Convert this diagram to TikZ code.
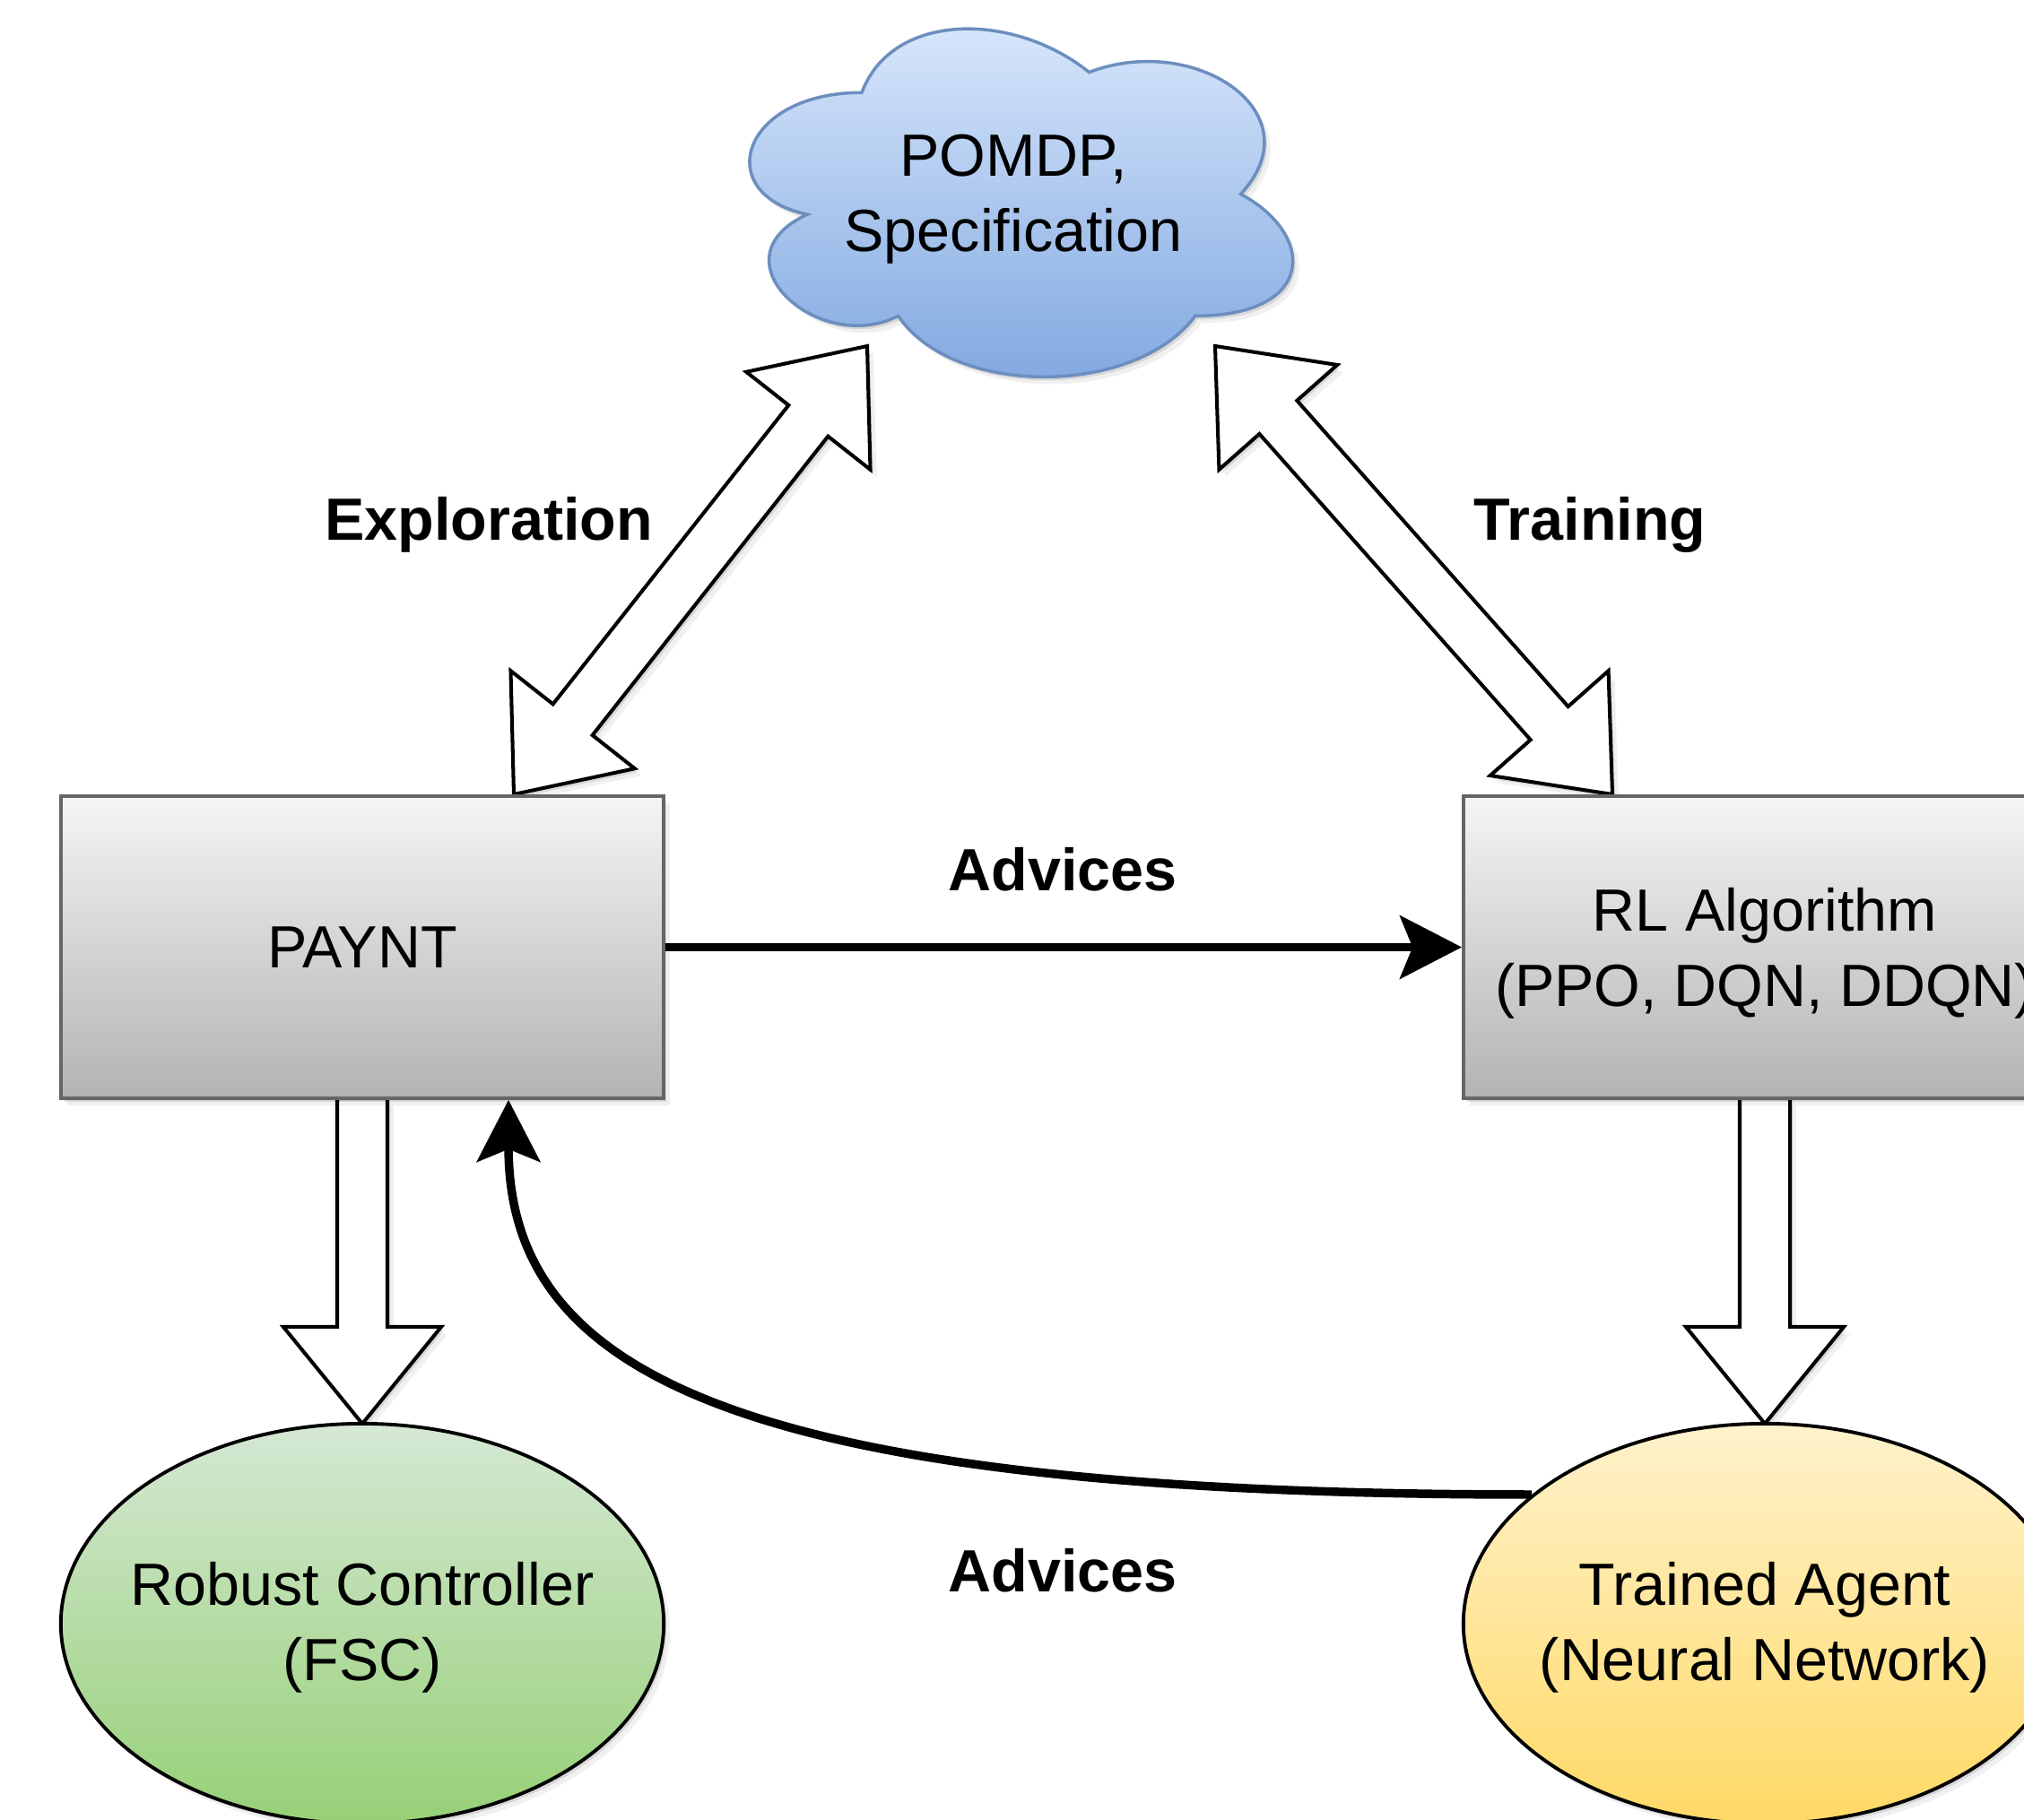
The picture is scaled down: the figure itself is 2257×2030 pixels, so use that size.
\documentclass[tikz,border=0pt]{standalone}
\usepackage{fontspec}
\setmainfont{Liberation Sans}
\usetikzlibrary{shapes.geometric,arrows.meta,calc,shadows}

\definecolor{boxtop}{HTML}{F5F5F5}
\definecolor{boxbot}{HTML}{B3B3B3}
\definecolor{boxline}{HTML}{666666}
\definecolor{cloudtop}{HTML}{DAE8FC}
\definecolor{cloudbot}{HTML}{7EA6E0}
\definecolor{cloudline}{HTML}{6C8EBF}
\definecolor{greentop}{HTML}{D5E8D4}
\definecolor{greenbot}{HTML}{97D077}
\definecolor{yeltop}{HTML}{FFF2CC}
\definecolor{yelbot}{HTML}{FFD966}

\newcommand\mytxt{\fontsize{18.9pt}{23.9pt}\selectfont}

% single block arrow from #1 to tip #2
\newcommand\flexone[2]{%
  \coordinate (hb) at ($(#2)!1.08cm!(#1)$);
  \draw[blockarrow] ($(#1)!0.28cm!90:(#2)$) -- ($(hb)!0.28cm!90:(#2)$) -- ($(hb)!0.88cm!90:(#2)$) -- (#2)
    -- ($(hb)!0.88cm!-90:(#2)$) -- ($(hb)!0.28cm!-90:(#2)$) -- ($(#1)!0.28cm!-90:(#2)$) -- cycle;
}
% double block arrow between tips #1 and #2
\newcommand\flextwo[2]{%
  \coordinate (ha) at ($(#1)!1.06cm!(#2)$);
  \coordinate (hb) at ($(#2)!1.06cm!(#1)$);
  \draw[blockarrow] (#1) -- ($(ha)!0.88cm!90:(#2)$) -- ($(ha)!0.28cm!90:(#2)$)
    -- ($(hb)!0.28cm!-90:(#1)$) -- ($(hb)!0.88cm!-90:(#1)$) -- (#2)
    -- ($(hb)!0.88cm!90:(#1)$) -- ($(hb)!0.28cm!90:(#1)$)
    -- ($(ha)!0.28cm!-90:(#2)$) -- ($(ha)!0.88cm!-90:(#2)$) -- cycle;
}

\tikzset{
  shd/.style={drop shadow={fill=black, opacity=0.10, shadow xshift=0.03cm, shadow yshift=-0.04cm},
              drop shadow={fill=black, opacity=0.06, shadow xshift=0.07cm, shadow yshift=-0.08cm}},
  box/.style={rectangle, draw=boxline, line width=1pt, top color=boxtop, bottom color=boxbot,
              minimum width=6.72cm, minimum height=3.37cm, inner sep=0pt, align=center, font=\mytxt, shd},
  ell/.style={ellipse, draw=black, line width=1.1pt, minimum width=6.72cm, minimum height=4.46cm,
              inner xsep=-0.3cm, inner ysep=0pt, align=center, font=\mytxt, shd},
  lbl/.style={font=\mytxt\bfseries, anchor=base, inner sep=0pt},
  blockarrow/.style={draw=black, fill=white, line width=1.15pt, line join=miter, shd},
  conn/.style={line width=2.7pt, -{Stealth[length=19.6pt, width=20pt, inset=4pt]}},
}

\begin{document}
\begin{tikzpicture}[x=0.01cm, y=-0.01cm]
\useasboundingbox (0,0) rectangle (2257,2030);
\clip (0,0) rectangle (2257,2030);

% cloud
\draw[draw=cloudline, line width=1pt, top color=cloudtop, bottom color=cloudbot, shd]
  (961,103.25) .. controls (825.8,103.25) and (792,216.5) .. (900.2,239.15)
  .. controls (792,289) and (913.7,397.7) .. (1001.6,352.4)
  .. controls (1062.4,443) and (1265.2,443) .. (1332.8,352.4)
  .. controls (1468,352.4) and (1468,261.8) .. (1383.5,216.5)
  .. controls (1468,125.9) and (1332.8,35.3) .. (1214.5,80.6)
  .. controls (1130,12.65) and (994.8,12.65) .. (961,103.25) -- cycle;
\node[font=\mytxt, align=center, inner sep=0pt] (pomdp) at (1130,222) {POMDP,\\Specification};

% block arrows
\coordinate (expA) at (573,886);
\coordinate (expB) at (967,386);
\coordinate (trnA) at (1798,886);
\coordinate (trnB) at (1355,386);
\flextwo{expA}{expB}
\flextwo{trnA}{trnB}

\coordinate (pbot) at (404,1225);
\coordinate (rbot) at (1968,1225);
\coordinate (rtop) at (404,1588);
\coordinate (atop) at (1968,1588);
\flexone{pbot}{rtop}
\flexone{rbot}{atop}

\node[box] (paynt) at (404,1056.5) {PAYNT};
\node[box] (rl) at (1968,1056.5) {\rule{0pt}{0.62cm}RL Algorithm\\(PPO, DQN, DDQN)};
\node[ell, top color=greentop, bottom color=greenbot] (robust) at (404,1811) {\rule{0pt}{0.565cm}Robust Controller\\(FSC)};
\node[ell, top color=yeltop, bottom color=yelbot] (agent) at (1968,1811) {\rule{0pt}{0.565cm}Trained Agent\\(Neural Network)};

% connectors
\draw[conn] (paynt.east) -- (rl.west);
\coordinate (pend) at ($(paynt.south west)+(501,0)$);
\draw[conn] (agent.151.5) .. controls +(-900,0) and +(0,300) .. (pend);

% labels
\node[lbl] (lexp) at (545,602) {Exploration};
\node[lbl] (ltrn) at (1773,602) {Training};
\node[lbl] (ladv1) at (1185,993) {Advices};
\node[lbl] (ladv2) at (1185,1775) {Advices};
\end{tikzpicture}
\end{document}
